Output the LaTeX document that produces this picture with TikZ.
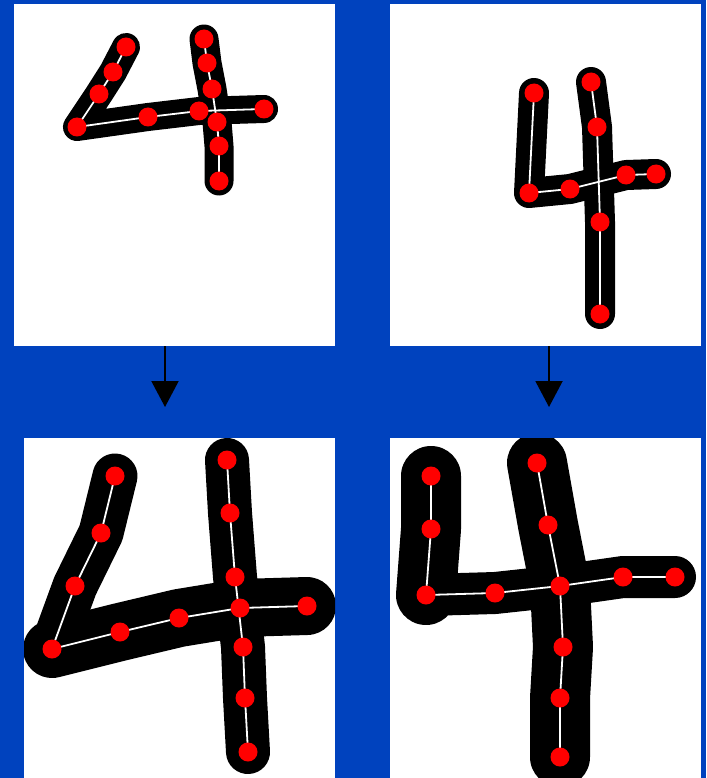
\documentclass[tikz,border=0pt]{standalone}
\usepackage{tikz}
\usetikzlibrary{arrows.meta}

\definecolor{slideblue}{RGB}{0,66,190}

\begin{document}
\begin{tikzpicture}[
    x=1pt, y=-1pt,
    panel/.style={
        fill=white,
        inner sep=0pt,
        outer sep=0pt,
        anchor=north west
    },
    dot/.style={
        circle,
        fill=red,
        inner sep=0pt,
        minimum size=19pt
    },
    ink/.style={
        line width=#1,
        line cap=round,
        line join=round
    },
    link/.style={
        white,
        line width=1.8pt
    },
    arrow/.style={
        -{Triangle[width=27pt,length=26pt]},
        line width=2pt
    }
]

% ------------------------------------------------------------------
% Slide background and panels
% ------------------------------------------------------------------

\fill[slideblue] (0,0) rectangle (706,778);
\useasboundingbox (0,0) rectangle (706,778);

\node[panel, minimum width=321pt, minimum height=342pt] (topleft) at (14,4) {};
\node[panel, minimum width=311pt, minimum height=342pt] (topright) at (390,4) {};
\node[panel, minimum width=311pt, minimum height=340pt] (bottomleft) at (24,438) {};
\node[panel, minimum width=311pt, minimum height=340pt] (bottomright) at (390,438) {};

% ------------------------------------------------------------------
% Sample points
% ------------------------------------------------------------------

\foreach \n/\x/\y in {a1/126/47, a2/113/72, a3/99/94, a4/77/127,
    a5/148/117, a6/199/111, a7/264/109,
    b1/204/39, b2/207/63, b3/212/89, b4/217/122, b5/219/146, b6/219/181,
    c1/534/93, c2/529/193, c3/570/189, c4/626/175, c5/656/174,
    d1/591/82, d2/597/127, d3/600/222, d4/600/314,
    e1/115/476, e2/101/533, e3/75/586, e4/52/649,
    e5/120/632, e6/179/618, e7/240/608, e8/307/606,
    f1/227/460, f2/230/513, f3/235/577, f4/243/647, f5/245/698, f6/248/752,
    g1/431/476, g2/431/529, g3/426/595, g4/495/593,
    g5/560/586, g6/623/577, g7/675/577,
    h1/537/463, h2/548/525, h4/563/647, h5/560/698, h6/560/757}
    \coordinate (\n) at (\x,\y);

% ------------------------------------------------------------------
% Top left: original digit
% ------------------------------------------------------------------

\begin{scope}
\clip (topleft.north west) rectangle (topleft.south east);
\draw[ink=28pt] (a1) -- (a2) -- (a3) -- (a4) -- (a5) -- (a6) -- (a7);
\draw[ink=29pt] (b1) -- (b2) -- (b3) -- (b4) -- (b5) -- (b6);
\draw[link] (a1) -- (a2) -- (a3) -- (a4) -- (a5) -- (a6) -- (a7);
\draw[link] (b1) -- (b2) -- (b3) -- (b4) -- (b5) -- (b6);
\end{scope}

% ------------------------------------------------------------------
% Top right: original digit
% ------------------------------------------------------------------

\begin{scope}
\clip (topright.north west) rectangle (topright.south east);
\draw[ink=30pt] (c1) -- (c2) -- (c3) -- (c4) -- (c5);
\draw[ink=30pt] (d1) -- (d2) -- (d3) -- (d4);
\draw[link] (c1) -- (c2) -- (c3) -- (c4) -- (c5);
\draw[link] (d1) -- (d2) -- (d3) -- (d4);
\end{scope}

% ------------------------------------------------------------------
% Bottom left: normalized digit
% ------------------------------------------------------------------

\begin{scope}
\clip (bottomleft.north west) rectangle (bottomleft.south east);
\draw[ink=45pt] (e1) -- (e2) -- (e3) -- (e4);
\draw[ink=58pt] (e4) -- (e5) -- (e6) -- (e7) -- (e8);
\draw[ink=44pt] (f1) -- (f2) -- (f3) -- (f4) -- (f5) -- (f6);
\draw[link] (e1) -- (e2) -- (e3) -- (e4) -- (e5) -- (e6) -- (e7) -- (e8);
\draw[link] (f1) -- (f2) -- (f3) -- (f4) -- (f5) -- (f6);
\end{scope}

% ------------------------------------------------------------------
% Bottom right: normalized digit
% ------------------------------------------------------------------

\begin{scope}
\clip (bottomright.north west) rectangle (bottomright.south east);
\draw[ink=60pt] (g1) -- (g2) -- (g3);
\draw[ink=42pt] (g3) -- (g4) -- (g5) -- (g6) -- (g7);
\draw[ink=60pt] (h1) -- (h2) -- (g5) -- (h4) -- (h5) -- (h6);
\draw[link] (g1) -- (g2) -- (g3) -- (g4) -- (g5) -- (g6) -- (g7);
\draw[link] (h1) -- (h2) -- (g5) -- (h4) -- (h5) -- (h6);
\end{scope}

\foreach \n in {a1,a2,a3,a4,a5,a6,a7,b1,b2,b3,b4,b5,b6,
    c1,c2,c3,c4,c5,d1,d2,d3,d4,
    e1,e2,e3,e4,e5,e6,e7,e8,f1,f2,f3,f4,f5,f6,
    g1,g2,g3,g4,g5,g6,g7,h1,h2,h4,h5,h6}
    \node[dot] (dot-\n) at (\n) {};

% ------------------------------------------------------------------
% Arrows
% ------------------------------------------------------------------

\coordinate (lefttip) at (165,407);
\coordinate (righttip) at (549,407);

\draw[arrow] (topleft.south -| lefttip) -- (lefttip);
\draw[arrow] (topright.south -| righttip) -- (righttip);

\end{tikzpicture}
\end{document}
